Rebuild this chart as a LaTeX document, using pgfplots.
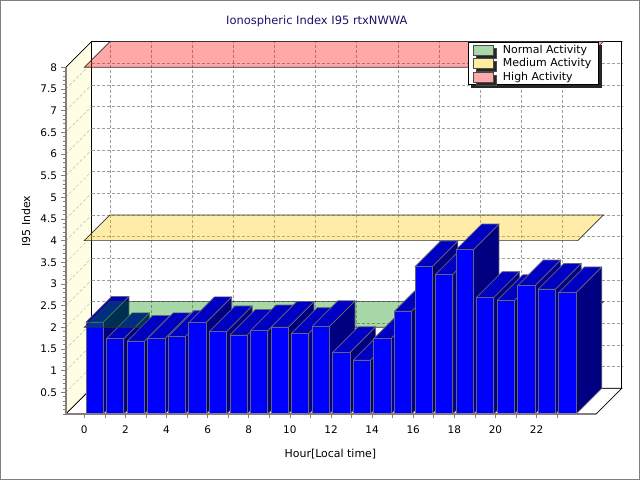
\documentclass[border=0pt]{standalone}
\usepackage{fontspec}
\setmainfont{DejaVu Sans}
\usepackage{pgfplots}
\pgfplotsset{compat=1.18}
\usepackage{pgfplotstable}
\usetikzlibrary{shadows}

\definecolor{barfront}{RGB}{0,0,255}
\definecolor{bartop}{RGB}{0,0,195}
\definecolor{barside}{RGB}{0,0,128}
\definecolor{edgegray}{RGB}{100,100,115}
\definecolor{wallyellow}{RGB}{255,253,226}
\definecolor{titlecol}{RGB}{35,15,105}
\definecolor{gband}{RGB}{0,140,0}
\definecolor{yband}{RGB}{255,200,0}
\definecolor{rband}{RGB}{255,0,0}
\definecolor{gsw}{RGB}{168,216,168}
\definecolor{ysw}{RGB}{255,236,160}
\definecolor{rsw}{RGB}{255,170,170}

\pgfplotstableread{
hour value
0 2.12
1 1.74
2 1.68
3 1.74
4 1.79
5 2.11
6 1.90
7 1.82
8 1.92
9 2.00
10 1.86
11 2.02
12 1.42
13 1.24
14 1.74
15 2.37
16 3.40
17 3.22
18 3.79
19 2.69
20 2.62
21 2.96
22 2.88
23 2.80
}\ionodata

\def\DX{1.25}
\def\DY{0.593}

\newcommand\drawbar[1]{%
  \pgfplotstablegetelem{#1}{value}\of\ionodata
  \let\h\pgfplotsretval
  \pgfmathsetmacro\xa{#1+0.08}%
  \pgfmathsetmacro\xb{#1+0.92}%
  \pgfmathsetmacro\xc{\xa+\DX}%
  \pgfmathsetmacro\xd{\xb+\DX}%
  \pgfmathsetmacro\hh{\h+\DY}%
  \edef\temp{%
    \noexpand\addplot[forget plot, fill=barside, draw=edgegray, line width=0.7bp, line join=round] coordinates {(\xb,0) (\xd,\DY) (\xd,\hh) (\xb,\h)} -- cycle;
    \noexpand\addplot[forget plot, fill=bartop, draw=edgegray, line width=0.7bp, line join=round] coordinates {(\xa,\h) (\xb,\h) (\xd,\hh) (\xc,\hh)} -- cycle;
    \noexpand\addplot[forget plot, fill=barfront, draw=edgegray, line width=0.7bp, line join=round] coordinates {(\xa,0) (\xb,0) (\xb,\h) (\xa,\h)} -- cycle;
  }\temp
}

\pgfplotsset{base/.style={
  scale only axis, width=530.4bp, height=346.7bp,
  xmin=-0.9, xmax=24.9, ymin=0, ymax=8, clip=false, no markers,
}}

\begin{document}
\begin{tikzpicture}
\useasboundingbox (0,0) rectangle (640bp,480bp);
\fill[white] (0,0) rectangle (640bp,480bp);
\draw[gray, line width=1.2bp] (0.6bp,0.6bp) rectangle (639.4bp,479.4bp);

% back wall with grid
\begin{axis}[base, at={(91.5bp,91.7bp)}, anchor=south west,
  xtick={0,2,...,22}, ytick={0.5,1,...,8},
  xticklabels={}, yticklabels={},
  tick style={draw=none},
  grid=major, grid style={gray!75, line width=0.5bp, dash pattern=on 3bp off 2bp},
  axis line style={black, line width=0.9bp}]
\end{axis}

% front
\begin{axis}[base, at={(65.8bp,66bp)}, anchor=south west,
  axis on top=true,
  axis x line*=bottom, axis y line*=left,
  axis line style={gray, line width=1.6bp, -},
  tick style={gray, line width=0.6bp},
  tick align=outside, major tick length=4.5bp, minor tick length=2.5bp,
  xtick={0,...,23},
  xticklabels={0,,2,,4,,6,,8,,10,,12,,14,,16,,18,,20,,22,},
  ytick={0.5,1,...,8},
  minor ytick={0,0.1,...,8},
  /pgf/number format/assume math mode=true,
  ticklabel style={font=\fontsize{10.5}{12}\selectfont, black},
  yticklabel style={inner xsep=4bp},
  xticklabel style={yshift=-3.5bp},
  title={Ionospheric Index I95 rtxNWWA},
  title style={at={(axis description cs:0.4732,1.1142)}, anchor=center, font=\fontsize{11.5}{13}\selectfont, text=titlecol},
  xlabel={Hour[Local time]},
  xlabel style={at={(axis description cs:0.4989,-0.1154)}, anchor=center, font=\fontsize{11}{13}\selectfont},
  ylabel={I95 Index},
  ylabel style={at={(axis description cs:-0.0751,0.5567)}, anchor=center, font=\fontsize{11}{13}\selectfont},
  legend image code/.code={\draw[#1] (0bp,-5bp) rectangle (20bp,5bp);},
  legend cell align=left,
  legend style={at={(axis description cs:1.0056,1.0735)}, anchor=north east,
    draw=black, line width=0.8bp, fill=white,
    drop shadow={shadow xshift=3bp, shadow yshift=-3bp, fill=black!85, opacity=1},
    font=\fontsize{11}{12}\selectfont, inner xsep=5bp, inner ysep=1.2bp,
    column sep=6.5bp, row sep=0bp, nodes={inner xsep=2.5bp, inner ysep=1.8bp}},
]
% left wall
\addplot[forget plot, fill=wallyellow, draw=black, line width=0.7bp] coordinates {(-0.9,0) (-0.9,8) (0.35,8.593) (0.35,0.593)} -- cycle;
\pgfplotsforeachungrouped \v in {0.5,1,...,7.5}{%
  \pgfmathsetmacro\vv{\v+\DY}%
  \edef\temp{\noexpand\addplot[forget plot, gray!55, line width=0.5bp, dash pattern=on 3bp off 2bp] coordinates {(-0.9,\v) (0.35,\vv)};}\temp
}
% floor
\addplot[forget plot, fill=white, draw=black, line width=0.7bp] coordinates {(-0.9,0) (24.9,0) (26.15,0.593) (0.35,0.593)} -- cycle;
% medium and high activity bands
\addplot[forget plot, fill=yband, fill opacity=0.34, draw=black!80, line width=0.7bp] coordinates {(0,4) (24,4) (25.25,4.593) (1.25,4.593)} -- cycle;
\addplot[forget plot, fill=rband, fill opacity=0.34, draw=black!80, line width=0.7bp] coordinates {(0,8) (24,8) (25.25,8.593) (1.25,8.593)} -- cycle;
% bars 0-1
\pgfplotsforeachungrouped \i in {0,1}{\drawbar{\i}}
% normal activity band
\addplot[forget plot, fill=gband, fill opacity=0.34, draw=black!80, line width=0.7bp] coordinates {(0,2) (24,2) (25.25,2.593) (1.25,2.593)} -- cycle;
% bars 2-23
\pgfplotsforeachungrouped \i in {2,...,23}{\drawbar{\i}}

\addlegendimage{fill=gsw, draw=black!70, line width=0.6bp}
\addlegendentry{Normal Activity}
\addlegendimage{fill=ysw, draw=black!70, line width=0.6bp}
\addlegendentry{Medium Activity}
\addlegendimage{fill=rsw, draw=black!70, line width=0.6bp}
\addlegendentry{High Activity}
\end{axis}
\end{tikzpicture}
\end{document}
